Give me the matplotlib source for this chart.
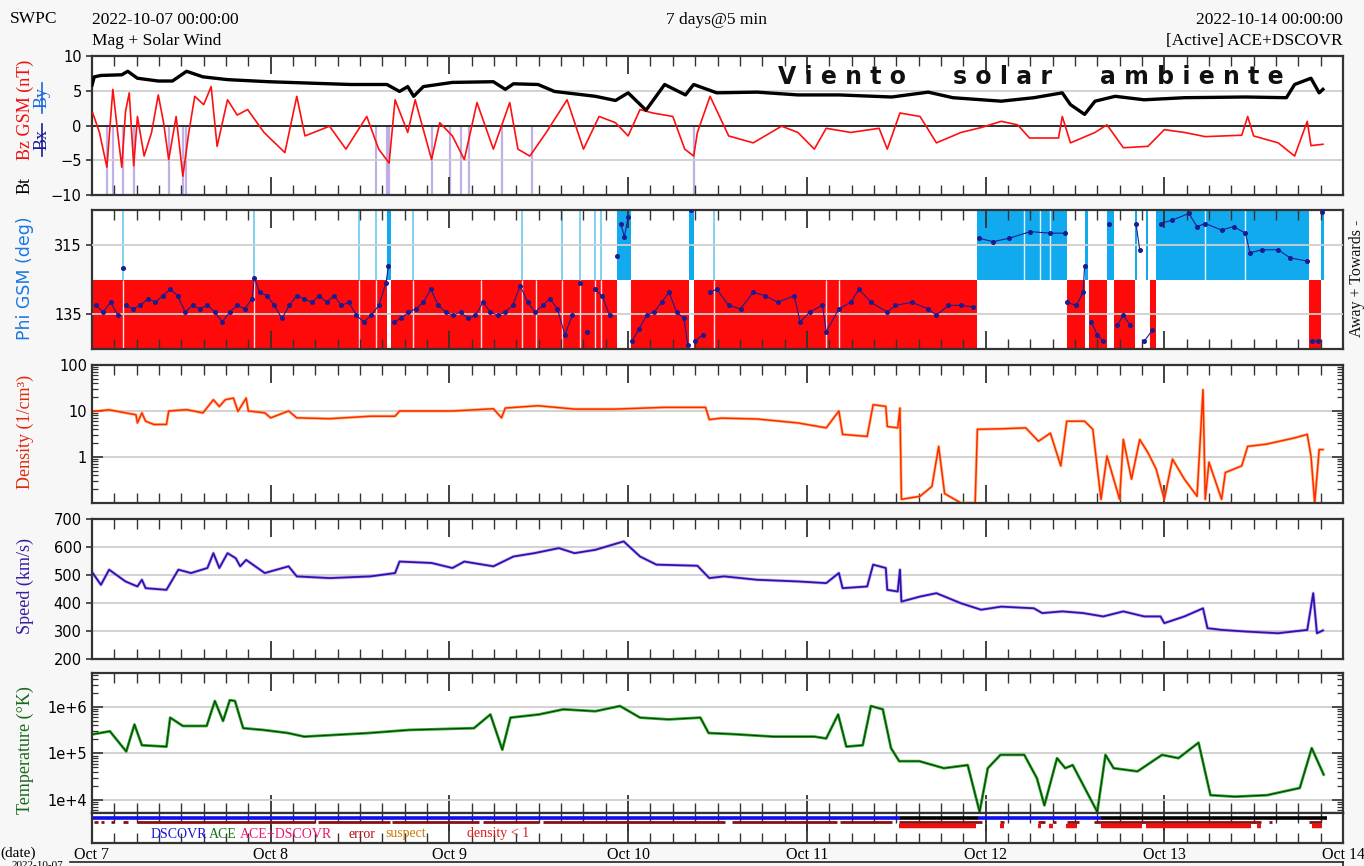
import numpy as np
import matplotlib.pyplot as plt
from matplotlib.lines import Line2D
from matplotlib.ticker import FixedLocator, MultipleLocator, LogLocator, NullFormatter

#######################################################################
# Mag + Solar Wind, 7 days @ 5 min  (hours since 2022-10-07 00:00 UT)
#######################################################################

day_ticks = [0, 24, 48, 72, 96, 120, 144, 168]
day_labels = ["Oct 7", "Oct 8", "Oct 9", "Oct 10", "Oct 11", "Oct 12", "Oct 13", "Oct 14"]

# Bt [nT]
bt_hours = [0.0, 0.3, 1.2, 4.0, 4.8, 6.1, 8.9, 10.8, 12.7, 14.9, 18.2, 23.7, 29.2, 34.7,
            39.6, 41.3, 42.4, 43.2, 44.5, 48.4, 53.9, 55.5, 56.6, 59.9, 62.1, 67.6, 70.3,
            72.0, 74.4, 76.9, 79.7, 80.8, 83.9, 89.3, 94.8, 100.3, 107.4, 112.3, 115.6,
            122.1, 126.5, 130.3, 131.4, 133.3, 134.7, 137.4, 141.3, 146.7, 154.9, 160.4,
            161.5, 163.7, 164.8, 165.3]
bt_values = [5.8, 7.0, 7.2, 7.3, 7.8, 6.8, 6.4, 6.4, 7.8, 7.0, 6.6, 6.3, 6.1, 5.9,
             5.9, 4.9, 5.6, 4.2, 5.6, 6.2, 6.3, 5.2, 6.0, 5.9, 4.9, 4.2, 3.6,
             4.7, 2.2, 5.9, 4.4, 5.9, 4.7, 4.8, 4.4, 4.4, 4.1, 4.8, 4.0,
             3.5, 4.0, 4.7, 3.0, 1.6, 3.5, 4.2, 3.7, 4.0, 4.1, 4.0,
             5.9, 6.8, 4.7, 5.2]

# Bz GSM [nT]
bz_hours = [0.1, 1.0, 2.0, 2.8, 3.5, 4.0, 4.5, 5.0, 5.6, 6.1, 7.0, 8.0, 8.9, 9.6, 10.3,
            11.3, 12.2, 13.0, 13.8, 15.0, 16.0, 16.8, 18.2, 19.5, 20.9, 23.1, 25.9, 27.5,
            28.6, 31.9, 34.1, 36.9, 38.5, 39.9, 40.7, 42.4, 43.4, 45.6, 46.7, 48.4, 50.0,
            51.7, 53.9, 56.1, 57.2, 58.8, 61.0, 63.8, 66.0, 68.1, 70.3, 72.0, 73.6, 75.3,
            78.0, 79.6, 80.8, 81.3, 83.0, 85.5, 88.8, 92.6, 94.8, 97.0, 98.6, 101.9,
            105.7, 106.8, 108.5, 111.2, 112.3, 113.4, 116.7, 119.4, 122.1, 124.3, 125.9,
            129.8, 130.3, 131.4, 134.7, 136.3, 138.5, 141.8, 144.0, 146.7, 149.5, 154.4,
            155.2, 156.0, 159.3, 161.5, 163.2, 163.7, 165.3]
bz_values = [1.8, -1.0, -6.0, 5.2, -1.5, -6.0, 2.0, 4.7, -5.8, 1.3, -4.4, -1.0, 4.4, 0.5, -4.9,
             1.3, -7.3, -1.0, 4.2, 3.0, 5.6, -3.0, 3.7, 1.5, 2.3, -1.0, -3.9, 4.2,
             -1.5, -0.1, -3.4, 1.3, -3.4, -5.4, 3.7, -1.0, 3.7, -4.9, 0.4, -1.5, -4.9,
             3.3, -3.4, 3.3, -3.4, -4.4, -1.0, 3.7, -3.4, 1.3, 0.4, -1.5, 2.3, 1.8,
             1.3, -3.4, -4.4, -1.0, 4.2, -1.5, -2.5, -0.1, -1.0, -3.4, -0.4, -1.0,
             -0.4, -3.4, 1.8, 1.3, -0.6, -2.5, -1.0, -0.3, 0.6, 0.1, -1.8,
             -1.8, 1.3, -2.5, -1.0, 0.1, -3.2, -3.0, -0.6, -1.0, -1.6, -1.4,
             1.3, -1.5, -2.5, -4.4, 0.6, -2.9, -2.7]

# strong southward Bz intervals
bz_south_hours = [2.0, 2.85, 4.2, 5.6, 10.3, 12.2, 12.6, 38.2, 39.6, 39.9, 45.6, 48.1,
                  49.5, 50.6, 55.0, 59.1, 80.8]

# Phi GSM [deg]
phi_hours = [0.5, 1.5, 2.5, 3.5, 4.2, 4.5, 5.5, 6.5, 7.5, 8.5, 9.5, 10.5, 11.5, 12.5, 13.5,
             14.5, 15.5, 16.5, 17.5, 18.5, 19.5, 20.5, 21.5, 21.8, 22.5, 23.5, 24.5, 25.5,
             26.5, 27.5, 28.5, 29.5, 30.5, 31.5, 32.5, 33.5, 34.5, 35.5, 36.5, 37.5, 38.5,
             39.5, 39.8, 40.5, 41.5, 42.5, 43.5, 44.5, 45.5, 46.5, 47.5, 48.5, 49.5, 50.5,
             51.5, 52.5, 53.5, 54.5, 55.5, 56.5, 57.5, 58.5, 59.5, 60.5, 61.5, 62.5, 63.5,
             64.5, 65.5, 66.5, 67.5, 68.5, 69.5, 70.5, 71.0, 71.5, 72.0, 72.5, 73.5, 74.5,
             75.5, 76.5, 77.5, 78.5, 79.5, 80.0, 80.5, 81.0, 82.0, 83.0, 83.9, 85.5, 87.1,
             88.8, 90.4, 92.1, 94.3, 95.1, 96.4, 98.1, 98.6, 100.3, 101.9, 103.0, 104.6,
             106.8, 107.9, 110.1, 112.3, 113.4, 115.0, 116.7, 118.3, 119.1, 121.0, 123.2,
             126.0, 128.7, 130.6, 130.9, 132.2, 133.1, 133.3, 134.2, 135.0, 135.8, 136.6,
             137.7, 138.5, 139.4, 140.2, 140.7, 141.3, 142.4, 143.5, 145.1, 147.3, 148.4,
             149.5, 151.7, 153.3, 154.9, 155.5, 157.1, 159.3, 160.9, 163.1, 163.9, 164.7,
             165.2]
phi_deg = [158, 141, 166, 132, 256, 158, 149, 158, 175, 166, 183, 200, 183, 141, 158,
           149, 158, 141, 115, 141, 158, 149, 175, 230, 192, 183, 158, 124,
           158, 183, 175, 166, 183, 166, 183, 158, 166, 132, 115, 132, 158,
           217, 260, 115, 124, 141, 149, 166, 200, 158, 141, 132, 141, 124,
           132, 166, 141, 132, 141, 158, 209, 166, 141, 158, 175, 149, 82,
           132, 217, 90, 200, 183, 132, 285, 370, 336, 387, 65, 98, 132,
           141, 166, 192, 141, 124, 56, 404, 65, 82, 192, 200, 158, 149,
           192, 183, 166, 183, 115, 141, 158, 90, 149, 166, 200, 166,
           141, 158, 166, 149, 132, 158, 158, 154, 332, 323, 332,
           349, 345, 345, 166, 158, 192, 260, 115, 82, 65, 370,
           107, 132, 107, 370, 302, 65, 94, 370, 379, 396, 362,
           370, 353, 362, 345, 294, 302, 302, 281, 273, 65, 65,
           400]

# IMF sector intervals [start h, end h]
towards_spans = [(0.0, 39.6), (40.2, 70.5), (72.4, 80.2), (80.8, 118.85), (130.9, 133.3),
                 (133.9, 136.3), (137.2, 140.1), (142.1, 142.9), (163.4, 165.0)]
away_spans = [(39.6, 40.2), (70.5, 72.4), (80.2, 80.8), (118.85, 130.9), (133.3, 133.7),
              (136.3, 137.2), (140.1, 140.4), (141.5, 141.8), (142.9, 163.4), (165.0, 165.5)]
brief_away_hours = [4.2, 21.8, 35.9, 38.2, 43.1, 57.8, 63.1, 65.5, 67.6, 68.4, 83.5]
towards_gap_hours = [52.2, 59.6, 98.6, 100.3]
away_gap_hours = [125.1, 127.3, 128.7, 149.5, 154.9]

# Density [1/cm^3]
dens_hours = [0.1, 2.3, 4.5, 5.9, 6.1, 6.7, 7.2, 8.3, 10.0, 10.3, 12.7, 14.9, 16.3, 17.1,
              17.9, 19.0, 19.6, 20.7, 21.0, 23.2, 24.0, 26.4, 27.5, 31.9, 37.4, 40.7, 41.3,
              45.6, 48.4, 53.9, 55.0, 55.5, 59.9, 64.8, 70.3, 76.9, 82.4, 82.9, 84.5, 89.3,
              94.8, 98.6, 100.3, 100.8, 104.1, 104.9, 106.6, 106.8, 108.2, 108.5, 108.7,
              111.2, 112.8, 113.7, 114.5, 116.7, 118.6, 118.9, 122.1, 125.4, 127.1, 128.7,
              130.1, 130.9, 133.3, 134.4, 135.5, 136.3, 138.0, 138.5, 139.6, 140.7, 141.8,
              142.9, 144.0, 145.1, 146.7, 148.4, 149.2, 149.5, 150.0, 151.7, 152.2, 154.4,
              155.2, 157.7, 161.5, 163.2, 163.7, 164.2, 164.8, 165.3]
dens_values = [9.8, 10.6, 9.1, 8.3, 5.5, 9.1, 6.0, 5.1, 5.1, 10.0, 10.7, 9.1, 17.6, 12.5,
               17.6, 19.1, 9.8, 19.1, 10.0, 9.1, 7.1, 10.0, 7.1, 6.8, 7.7, 7.7, 10.0,
               10.0, 10.0, 11.2, 7.1, 11.6, 13.0, 11.0, 11.0, 12.0, 12.0, 6.5, 7.0, 6.7,
               5.5, 4.3, 10.0, 3.1, 2.8, 13.7, 12.6, 4.6, 4.3, 11.6, 0.12,
               0.14, 0.23, 1.7, 0.16, 0.1, 0.1, 4.0, 4.1, 4.3, 2.2, 3.3,
               0.64, 6.0, 6.0, 4.0, 0.12, 1.05, 0.12, 2.4, 0.33, 2.4, 1.25,
               0.55, 0.12, 0.9, 0.33, 0.14, 29.0, 0.12, 0.77, 0.12, 0.46, 0.64,
               1.7, 1.9, 2.6, 3.1, 1.05, 0.1, 1.45, 1.45]

# Speed [km/s]
speed_hours = [0.1, 1.2, 2.3, 4.5, 6.1, 6.7, 7.2, 10.0, 11.6, 13.3, 15.5, 16.3, 17.1, 18.2,
               19.3, 19.9, 20.7, 23.2, 26.4, 27.5, 31.9, 37.4, 40.7, 41.3, 45.6, 48.4, 50.0,
               53.9, 56.6, 59.4, 62.7, 64.8, 67.6, 71.4, 73.6, 75.8, 81.3, 82.9, 84.9, 89.3,
               94.8, 98.6, 100.3, 100.8, 104.1, 104.9, 106.6, 106.8, 108.2, 108.5, 108.7,
               111.2, 113.4, 116.7, 119.4, 122.1, 126.5, 127.6, 130.3, 133.1, 135.8, 138.5,
               141.3, 143.5, 144.0, 146.7, 149.2, 149.8, 151.7, 155.0, 159.3, 163.2, 164.0,
               164.5, 165.3]
speed_values = [507, 465, 519, 477, 459, 483, 453, 447, 519, 507, 525, 578, 525, 578,
                560, 531, 554, 507, 531, 495, 489, 495, 507, 548, 543, 525, 548,
                531, 566, 578, 596, 578, 590, 620, 566, 537, 533, 489, 495, 483,
                477, 471, 507, 453, 459, 537, 525, 447, 441, 519, 405,
                423, 435, 399, 376, 387, 381, 364, 370, 364, 352, 370,
                352, 352, 328, 352, 381, 310, 304, 298, 292, 304, 435,
                292, 302]

# Temperature [K]
temp_hours = [0.2, 2.4, 4.6, 5.7, 6.7, 10.0, 10.5, 12.2, 15.4, 16.5, 17.6, 18.5, 19.2,
              20.3, 23.0, 26.3, 28.5, 37.2, 42.6, 51.3, 53.5, 55.1, 56.2, 60.0, 63.3, 67.6,
              70.9, 73.6, 77.4, 81.7, 82.8, 86.1, 91.5, 97.0, 98.6, 100.2, 101.3, 103.5,
              104.6, 106.2, 107.3, 108.4, 111.1, 114.4, 117.6, 119.2, 120.3, 122.0, 125.2,
              126.9, 127.9, 129.6, 130.7, 131.7, 135.0, 136.1, 137.2, 140.4, 143.7, 145.9,
              148.6, 150.2, 153.5, 157.8, 162.2, 163.8, 165.4]
temp_values = [2.6e5, 3.0e5, 1.1e5, 4.2e5, 1.5e5, 1.4e5, 5.9e5, 3.9e5, 3.9e5, 1.35e6, 5.0e5,
               1.4e6, 1.35e6, 3.5e5, 3.2e5, 2.75e5, 2.3e5, 2.75e5, 3.2e5, 3.5e5, 6.9e5,
               1.2e5, 5.9e5, 6.9e5, 8.9e5, 8.1e5, 1.05e6, 5.9e5, 5.4e5, 5.9e5, 2.75e5,
               2.6e5, 2.3e5, 2.3e5, 2.1e5, 6.9e5, 1.4e5, 1.5e5, 1.05e6, 8.9e5, 1.3e5,
               6.8e4, 6.8e4, 4.8e4, 5.6e4, 5.5e3, 4.8e4, 9.3e4, 9.3e4, 2.9e4, 7.6e3,
               7.9e4, 4.8e4, 5.6e4, 5.5e3, 9.3e4, 4.8e4, 4.1e4, 9.3e4, 7.9e4, 1.7e5,
               1.26e4, 1.17e4, 1.26e4, 1.8e4, 1.3e5, 3.5e4]

# Source / flag bars
src_blue_spans = [(0.0, 108.5), (119.0, 135.5)]
src_black_spans = [(108.5, 119.0), (135.5, 165.8)]
flag_spans = [(0.3, 0.8), (1.2, 1.6), (2.5, 3.0), (4.2, 4.8), (6.0, 30.0), (30.3, 40.0),
              (40.3, 52.0), (52.5, 60.0), (60.5, 85.0), (86.0, 100.0), (100.5, 107.5),
              (108.4, 119.5), (122.0, 122.5), (127.0, 128.0), (129.0, 129.5), (131.0, 132.5),
              (134.5, 157.0), (158.0, 158.5), (163.5, 165.0)]
lowdens_spans = [(108.4, 118.7), (122.0, 122.5), (127.0, 127.5), (128.5, 129.0),
                 (130.8, 132.3), (135.5, 141.0), (141.5, 155.7), (156.5, 157.0),
                 (163.8, 165.2)]

legend_items = [("DSCOVR", 7.8, "#1414d8"), ("ACE", 15.7, "#167016"),
                ("ACE+DSCOVR", 19.8, "#e8186e"), ("error", 34.5, "#b01010"),
                ("suspect", 39.4, "#c87a00"), ("density < 1", 50.3, "#e01818")]

#######################################################################
# Figure layout (pixel geometry of a 1364 x 866 canvas)
#######################################################################

W, H = 1364, 866
X0, X1 = 92, 1343
SERIF = "Liberation Serif"
SANS = "DejaVu Sans"

fig = plt.figure(figsize=(W / 100, H / 100), dpi=100, facecolor="#f7f7f7")


def panel(top, bottom):
    return fig.add_axes([X0 / W, 1 - bottom / H, (X1 - X0) / W, (bottom - top) / H])


def time_axis(ax, log=False):
    ax.set_facecolor("white")
    ax.set_xlim(0, 168)
    ax.xaxis.set_major_locator(FixedLocator(day_ticks))
    ax.xaxis.set_minor_locator(MultipleLocator(3))
    ax.tick_params(axis="x", which="major", direction="in", length=13, width=1.3,
                   top=True, bottom=True, labelbottom=False, color="#333333")
    ax.tick_params(axis="x", which="minor", direction="in", length=7, width=1.0,
                   top=True, bottom=True, color="#333333")
    if log:
        ax.tick_params(axis="y", which="major", direction="in", length=8, width=1.2,
                       left=True, right=True, labelsize=10.5, color="#333333")
        ax.tick_params(axis="y", which="minor", direction="in", length=4, width=0.9,
                       left=True, right=True, color="#333333")
    else:
        ax.tick_params(axis="y", which="major", direction="out", length=4, width=1.2,
                       labelsize=10.5, color="#333333")
    for s in ax.spines.values():
        s.set_color("#333333")
        s.set_linewidth(1.6)
    ax.yaxis.grid(True, which="major", color="#cfcfcf", lw=1.3)


def ylabel(text, y, color, family=SERIF, size=13, x=25):
    fig.text(x / W, 1 - y / H, text, rotation=90, ha="center", va="center",
             color=color, family=family, size=size)


# ---- Panel 1: Bt / Bz
ax1 = panel(56, 195)
time_axis(ax1)
ax1.set_ylim(-10, 10)
ax1.set_yticks([-10, -5, 0, 5, 10])
ax1.vlines(bz_south_hours, -10, 0, color="#8b6fd6", alpha=0.55, lw=1.6, zorder=1)
ax1.axhline(0, color="#222222", lw=1.3, zorder=2)
ax1.plot(bz_hours, bz_values, color="#ff1010", lw=1.2, zorder=3)
ax1.plot(bt_hours, bt_values, color="black", lw=2.4, zorder=4)
for word, xpix in [("V i e n t o", 778), ("s o l a r", 953), ("a m b i e n t e", 1100)]:
    fig.text(xpix / W, 1 - 77 / H, word, ha="left", va="center", family=SANS,
             weight="bold", size=17, color="#111111")

# ---- Panel 2: Phi GSM with sector shading
ax2 = panel(210, 349)
time_axis(ax2)
ax2.set_ylim(45, 405)
ax2.set_yticks([135, 315])
ax2.set_axisbelow(False)
for s, e in towards_spans:
    ax2.axvspan(s, e, ymin=0, ymax=0.5, color="#ff0a0a", lw=0, zorder=0)
for s, e in away_spans:
    ax2.axvspan(s, e, ymin=0.5, ymax=1, color="#12aaee", lw=0, zorder=0)
ax2.vlines(brief_away_hours, 225, 405, color="#6cc8f0", lw=1.2, zorder=1)
ax2.vlines(brief_away_hours + towards_gap_hours, 45, 225, color="#ffe0e0", lw=1.0, zorder=1)
ax2.vlines(away_gap_hours, 225, 405, color="#e0f4ff", lw=1.0, zorder=1)

ph = np.array(phi_hours, dtype=float)
pv = np.array(phi_deg, dtype=float)
jump = np.abs(np.diff(pv)) > 70
trace_h = np.insert(ph, np.where(jump)[0] + 1, np.nan)
trace_v = np.insert(pv, np.where(jump)[0] + 1, np.nan)
ax2.plot(trace_h, trace_v, color="#1c1c90", lw=0.8, zorder=3)
ax2.plot(ph, pv, "o", ms=2.6, color="#1c1c90", zorder=4)

# ---- Panel 3: Density
ax3 = panel(365, 503)
time_axis(ax3, log=True)
ax3.set_yscale("log")
ax3.set_ylim(0.1, 100)
ax3.yaxis.set_major_locator(FixedLocator([1, 10, 100]))
ax3.set_yticklabels(["1", "10", "100"])
ax3.yaxis.set_minor_locator(LogLocator(base=10, subs=np.arange(2, 10)))
ax3.yaxis.set_minor_formatter(NullFormatter())
ax3.plot(dens_hours, dens_values, color="#ff9a40", lw=2.2, alpha=0.6)
ax3.plot(dens_hours, dens_values, color="#ff2a00", lw=1.1)

# ---- Panel 4: Speed
ax4 = panel(519, 659)
time_axis(ax4)
ax4.set_ylim(200, 700)
ax4.set_yticks([200, 300, 400, 500, 600, 700])
ax4.plot(speed_hours, speed_values, color="#a070e0", lw=2.4, alpha=0.5)
ax4.plot(speed_hours, speed_values, color="#3010b0", lw=1.3)

# ---- Panel 5: Temperature
ax5 = panel(673, 813)
time_axis(ax5, log=True)
ax5.set_yscale("log")
ax5.set_ylim(5.2e3, 5.4e6)
ax5.yaxis.set_major_locator(FixedLocator([1e4, 1e5, 1e6]))
ax5.set_yticklabels(["1e+4", "1e+5", "1e+6"])
ax5.yaxis.set_minor_locator(LogLocator(base=10, subs=np.arange(2, 10)))
ax5.yaxis.set_minor_formatter(NullFormatter())
ax5.plot(temp_hours, temp_values, color="#22aa22", lw=2.0)
ax5.plot(temp_hours, temp_values, color="#103010", lw=0.7)

# ---- Panel 6: source and quality flags
ax6 = panel(813, 843)
time_axis(ax6)
ax6.yaxis.grid(False)
ax6.set_ylim(0, 1)
ax6.set_yticks([])
ax6.tick_params(axis="x", which="major", labelbottom=True, labelsize=11.5, pad=3)
ax6.set_xticklabels(day_labels, family=SERIF)
ax6.hlines([0.84] * len(src_blue_spans), [s for s, e in src_blue_spans],
           [e for s, e in src_blue_spans], color="#1010ee", lw=2.6)
ax6.hlines([0.84] * len(src_black_spans), [s for s, e in src_black_spans],
           [e for s, e in src_black_spans], color="black", lw=2.6)
ax6.hlines([0.7] * len(flag_spans), [s for s, e in flag_spans],
           [e for s, e in flag_spans], color="#8a1010", lw=2.0)
ax6.hlines([0.56] * len(lowdens_spans), [s for s, e in lowdens_spans],
           [e for s, e in lowdens_spans], color="#ee1010", lw=3.2)
for label, hx, col in legend_items:
    ax6.text(hx, 0.3, label, color=col, family=SERIF, size=10, ha="left", va="center")

#######################################################################
# Titles, axis labels
#######################################################################

fig.text(10 / W, 1 - 19 / H, "SWPC", family=SERIF, size=12.5, va="center")
fig.text(X0 / W, 1 - 20 / H, "2022-10-07 00:00:00", family=SERIF, size=12.5, va="center")
fig.text(X0 / W, 1 - 41 / H, "Mag + Solar Wind", family=SERIF, size=12.5, va="center")
fig.text(717 / W, 1 - 20 / H, "7 days@5 min", family=SERIF, size=12.5, va="center", ha="center")
fig.text(X1 / W, 1 - 20 / H, "2022-10-14 00:00:00", family=SERIF, size=12.5, va="center", ha="right")
fig.text(X1 / W, 1 - 41 / H, "[Active] ACE+DSCOVR", family=SERIF, size=12.5, va="center", ha="right")

ylabel("Bz GSM (nT)", 110, "#ee1111")
ylabel("Bt", 186, "black")
ylabel("Bx", 140, "#1a1a9a", x=42)
ylabel("By", 98, "#1a66dd", x=42)
fig.add_artist(Line2D([42 / W, 42 / W], [1 - 156 / H, 1 - 124 / H], color="#1a1a9a", lw=1.2))
fig.add_artist(Line2D([42 / W, 42 / W], [1 - 113 / H, 1 - 83 / H], color="#1a66dd", lw=1.2))
ylabel("Phi GSM (deg)", 278, "#1a78e0", family=SANS, size=12.5)
ylabel("Away + Towards -", 278, "#111111", size=11.5, x=1357)
ylabel("Density (1/cm³)", 432, "#e02a10")
ylabel("Speed (km/s)", 586, "#3a1aa0")
ylabel("Temperature (°K)", 750, "#1a6a1a")

fig.text(18 / W, 1 - 853 / H, "(date)", family=SERIF, size=11, ha="center", va="center")
fig.text(12 / W, 1 - 861 / H, "2022-10-07", family=SERIF, size=8, ha="left", va="top")
fig.add_artist(Line2D([70 / W, X1 / W], [1 - 862 / H, 1 - 862 / H], color="#222222", lw=1.2))
fig.add_artist(Line2D([X1 / W, X1 / W], [1 - 862 / H, 0], color="#222222", lw=1.2))

fig.savefig("out.png", dpi=100, facecolor=fig.get_facecolor())
